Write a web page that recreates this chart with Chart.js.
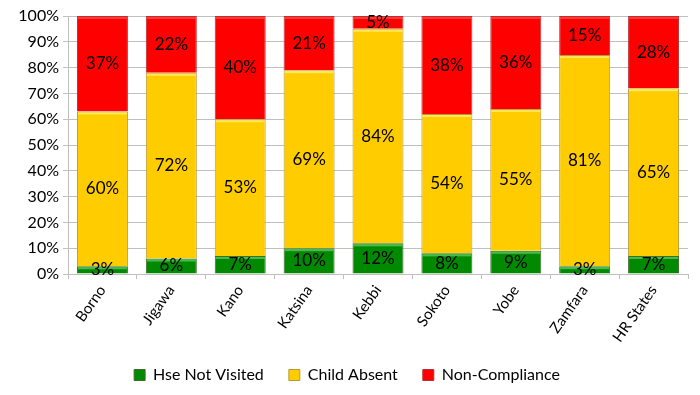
<!DOCTYPE html>
<html>
<head>
<meta charset="utf-8">
<script src="https://cdn.jsdelivr.net/npm/chart.js@4"></script>
<style>
  html, body { margin: 0; padding: 0; background: #fff; }
  #wrap { width: 700px; height: 395px; }
</style>
</head>
<body>
<div id="wrap"><canvas id="chart"></canvas></div>
<script>
// ---- data ----
const states = ["Borno", "Jigawa", "Kano", "Katsina", "Kebbi", "Sokoto", "Yobe", "Zamfara", "HR States"];
const hseNotVisited = [3, 6, 7, 10, 12, 8, 9, 3, 7];
const childAbsent   = [60, 72, 53, 69, 84, 54, 55, 81, 65];
const nonCompliance = [37, 22, 40, 21, 5, 38, 36, 15, 28];
const yTicks = [0, 10, 20, 30, 40, 50, 60, 70, 80, 90, 100];

const FONT = "Lato, 'Open Sans', sans-serif";

// 100% stacked: normalise each column
const totals = states.map((s, i) => hseNotVisited[i] + childAbsent[i] + nonCompliance[i]);
const norm = arr => arr.map((v, i) => v * 100 / totals[i]);

function series(label, raw, fill, edge) {
    return {
        label,
        data: norm(raw),
        raw,
        backgroundColor: fill,
        borderColor: edge,
        borderWidth: 1,
        categoryPercentage: 1.0,
        barPercentage: 0.74
    };
}

// labels centred inside each segment
const segmentLabels = {
    id: "segmentLabels",
    afterDatasetsDraw(chart) {
        const ctx = chart.ctx;
        ctx.save();
        ctx.font = "17px " + FONT;
        ctx.fillStyle = "#000";
        ctx.textAlign = "center";
        ctx.textBaseline = "middle";
        chart.data.datasets.forEach((ds, di) => {
            chart.getDatasetMeta(di).data.forEach((bar, i) => {
                const y = (bar.y + bar.base) / 2;
                ctx.fillText(ds.raw[i] + "%", bar.x, y);
            });
        });
        ctx.restore();
    }
};

// light bevel on top of each segment
const bevel = {
    id: "bevel",
    afterDatasetsDraw(chart) {
        const ctx = chart.ctx;
        const hl = ["rgba(90,200,90,0.8)", "rgba(255,236,100,0.9)", "rgba(255,80,80,0.7)"];
        chart.data.datasets.forEach((ds, di) => {
            chart.getDatasetMeta(di).data.forEach(bar => {
                const w = bar.width;
                ctx.fillStyle = hl[di];
                ctx.fillRect(bar.x - w / 2 + 1, bar.y + 1, w - 2, 2);
            });
        });
    }
};

new Chart(document.getElementById("chart"), {
    type: "bar",
    data: {
        labels: states,
        datasets: [
            series("Hse Not Visited", hseNotVisited, "#018A01", "#3E6B2A"),
            series("Child Absent", childAbsent, "#FFCC00", "#B89A3A"),
            series("Non-Compliance", nonCompliance, "#FF0000", "#B83030")
        ]
    },
    options: {
        responsive: true,
        maintainAspectRatio: false,
        animation: false,
        layout: { padding: { left: 6, right: 12, top: 16, bottom: 2 } },
        scales: {
            x: {
                stacked: true,
                afterFit: scale => { scale.height = 68; },
                grid: { drawOnChartArea: false, color: "#bfbfbf", tickLength: 5 },
                border: { color: "#bfbfbf" },
                ticks: {
                    color: "#000",
                    font: { family: FONT, size: 15 },
                    minRotation: 55,
                    maxRotation: 55,
                    padding: 3
                }
            },
            y: {
                stacked: true,
                min: 0,
                max: 100,
                afterBuildTicks: scale => { scale.ticks = yTicks.map(v => ({ value: v })); },
                afterFit: scale => { scale.width = 62; },
                grid: { color: "#c0c0c0", tickLength: 5 },
                border: { color: "#bfbfbf" },
                ticks: {
                    color: "#000",
                    font: { family: FONT, size: 16 },
                    padding: 4,
                    callback: v => v + "%"
                }
            }
        },
        plugins: {
            legend: {
                position: "bottom",
                labels: {
                    color: "#000",
                    font: { family: FONT, size: 16 },
                    boxWidth: 11,
                    boxHeight: 11,
                    padding: 25
                }
            },
            tooltip: { enabled: false }
        }
    },
    plugins: [bevel, segmentLabels]
});
</script>
</body>
</html>
